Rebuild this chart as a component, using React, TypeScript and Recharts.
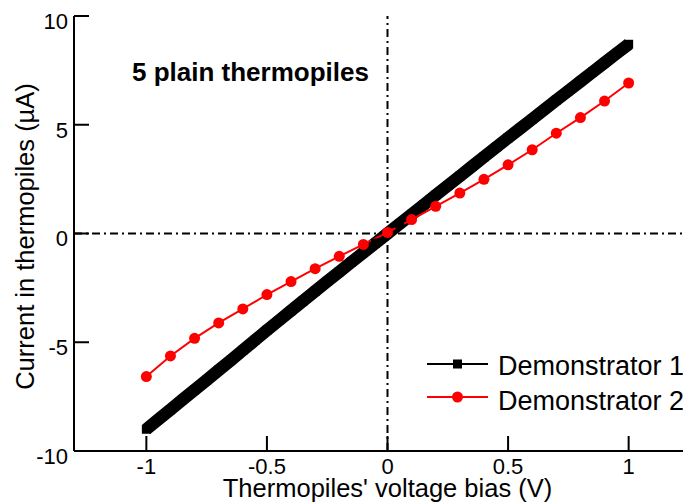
import React from 'react';
import { ComposedChart, Line, XAxis, YAxis, ReferenceLine, Customized } from 'recharts';

const FONT = '"Liberation Sans", Arial, Helvetica, sans-serif';

// Demonstrator 1: dense measurement (read every 0.05 V)
const demo1Bias = [
  -1.0, -0.95, -0.9, -0.85, -0.8, -0.75, -0.7, -0.65, -0.6, -0.55, -0.5,
  -0.45, -0.4, -0.35, -0.3, -0.25, -0.2, -0.15, -0.1, -0.05, 0.0,
  0.05, 0.1, 0.15, 0.2, 0.25, 0.3, 0.35, 0.4, 0.45, 0.5,
  0.55, 0.6, 0.65, 0.7, 0.75, 0.8, 0.85, 0.9, 0.95, 1.0,
];
const demo1Current = [
  -9.0, -8.55, -8.1, -7.64, -7.19, -6.74, -6.28, -5.83, -5.37, -4.91, -4.45,
  -4.0, -3.55, -3.1, -2.65, -2.2, -1.76, -1.32, -0.88, -0.44, 0.0,
  0.44, 0.88, 1.32, 1.76, 2.2, 2.64, 3.08, 3.52, 3.96, 4.4,
  4.83, 5.26, 5.7, 6.13, 6.56, 6.99, 7.42, 7.85, 8.28, 8.7,
];

// Demonstrator 2: measured every 0.1 V
const demo2Bias = [
  -1.0, -0.9, -0.8, -0.7, -0.6, -0.5, -0.4, -0.3, -0.2, -0.1, 0.0,
  0.1, 0.2, 0.3, 0.4, 0.5, 0.6, 0.7, 0.8, 0.9, 1.0,
];
const demo2Current = [
  -6.58, -5.63, -4.82, -4.11, -3.47, -2.81, -2.21, -1.62, -1.05, -0.5, 0.05,
  0.64, 1.25, 1.86, 2.49, 3.16, 3.85, 4.61, 5.33, 6.09, 6.92,
];

const xTicks = [-1, -0.5, 0, 0.5, 1];
const xTickLabels = ['-1', '-0.5', '0', '0.5', '1'];
const yTicks = [-10, -5, 0, 5, 10];
const yTickLabels = ['-10', '-5', '0', '5', '10'];
const xDomain = [-1.3, 1.3];
const yDomain = [-10, 10];

const seriesNames = ['Demonstrator 1', 'Demonstrator 2'];
const xTitle = "Thermopiles' voltage bias (V)";
const yTitle = 'Current in thermopiles (µA)';
const plotTitle = '5 plain thermopiles';

const demo1Data = demo1Bias.map((v, i) => ({ v, i: demo1Current[i] }));
const demo2Data = demo2Bias.map((v, i) => ({ v, i: demo2Current[i] }));

const labelFor = (vals: number[], labels: string[], value: number) => {
  const k = vals.findIndex((t) => Math.abs(t - value) < 1e-9);
  return k >= 0 ? labels[k] : String(value);
};

const XTick = (props: any) => {
  const { x, y, payload } = props;
  return (
    <text x={x} y={y} dy="0.7em" textAnchor="middle" fontSize={22} fontFamily={FONT} fill="#000">
      {labelFor(xTicks, xTickLabels, payload.value)}
    </text>
  );
};

const YTick = (props: any) => {
  const { x, y, payload } = props;
  return (
    <text x={x} y={y + 5} dy="0.36em" textAnchor="end" fontSize={22} fontFamily={FONT} fill="#000">
      {labelFor(yTicks, yTickLabels, payload.value)}
    </text>
  );
};

const EmptyTick = () => <g />;

const SquareDot = (props: any) => {
  const { cx, cy, index } = props;
  if (cx == null || cy == null) return <g key={`e-${index}`} />;
  return <rect key={`sq-${index}`} x={cx - 4.5} y={cy - 4.5} width={9} height={9} fill="#000" />;
};

const Overlay = () => (
  <g fontFamily={FONT} fill="#000">
    <text x={124} y={73} fontSize={26} fontWeight="bold">{plotTitle}</text>
    <text x={379.5} y={488.5} fontSize={25.5} textAnchor="middle">{xTitle}</text>
    <text transform="translate(25.5,228.5) rotate(-90)" fontSize={25.5} textAnchor="middle">{yTitle}</text>
    {/* legend */}
    <line x1={419} y1={356} x2={480} y2={356} stroke="#000" strokeWidth={2} />
    <rect x={445} y={351.5} width={9} height={9} fill="#000" />
    <text x={490} y={367} fontSize={27}>{seriesNames[0]}</text>
    <line x1={419} y1={389} x2={480} y2={389} stroke="#ff0000" strokeWidth={2} />
    <circle cx={449.5} cy={389} r={5.5} fill="#ff0000" />
    <text x={490} y={402} fontSize={27}>{seriesNames[1]}</text>
  </g>
);

const axisStyle = { stroke: '#000', strokeWidth: 2 };

export default function App() {
  return (
    <div style={{ width: 683, height: 494, overflow: 'hidden' }}>
      <ComposedChart
        width={720}
        height={494}
        margin={{ top: 8, right: 27, bottom: 0, left: 0 }}
        style={{ background: '#fff' }}
      >
        <XAxis
          dataKey="v"
          type="number"
          domain={xDomain}
          ticks={xTicks}
          allowDataOverflow
          height={51}
          axisLine={axisStyle}
          tickLine={axisStyle}
          tickSize={-15}
          tickMargin={22.5}
          tick={XTick}
          interval={0}
        />
        <XAxis
          xAxisId="top"
          orientation="top"
          dataKey="v"
          type="number"
          domain={xDomain}
          ticks={xTicks}
          allowDataOverflow
          height={0}
          axisLine={axisStyle}
          tickLine={axisStyle}
          tickSize={-15}
          tick={EmptyTick}
          interval={0}
        />
        <YAxis
          type="number"
          domain={yDomain}
          ticks={yTicks}
          allowDataOverflow
          width={66}
          axisLine={axisStyle}
          tickLine={axisStyle}
          tickSize={-15}
          tickMargin={21}
          tick={YTick}
          interval={0}
        />
        <YAxis
          yAxisId="right"
          orientation="right"
          type="number"
          domain={yDomain}
          ticks={yTicks}
          allowDataOverflow
          width={0}
          axisLine={axisStyle}
          tickLine={axisStyle}
          tickSize={-15}
          tick={EmptyTick}
          interval={0}
        />
        <ReferenceLine x={0} stroke="#000" strokeWidth={2} strokeDasharray="8 4 2 4" />
        <ReferenceLine y={0} stroke="#000" strokeWidth={2} strokeDasharray="8 4 2 4" />
        <Line
          data={demo1Data}
          dataKey="i"
          name={seriesNames[0]}
          type="linear"
          stroke="#000"
          strokeWidth={12.5}
          dot={SquareDot}
          activeDot={false}
          isAnimationActive={false}
        />
        <Line
          data={demo2Data}
          dataKey="i"
          name={seriesNames[1]}
          type="linear"
          stroke="#ff0000"
          strokeWidth={2}
          dot={{ r: 5.5, fill: '#ff0000', stroke: '#ff0000', strokeWidth: 0 }}
          activeDot={false}
          isAnimationActive={false}
        />
        <Customized component={Overlay} />
      </ComposedChart>
    </div>
  );
}
